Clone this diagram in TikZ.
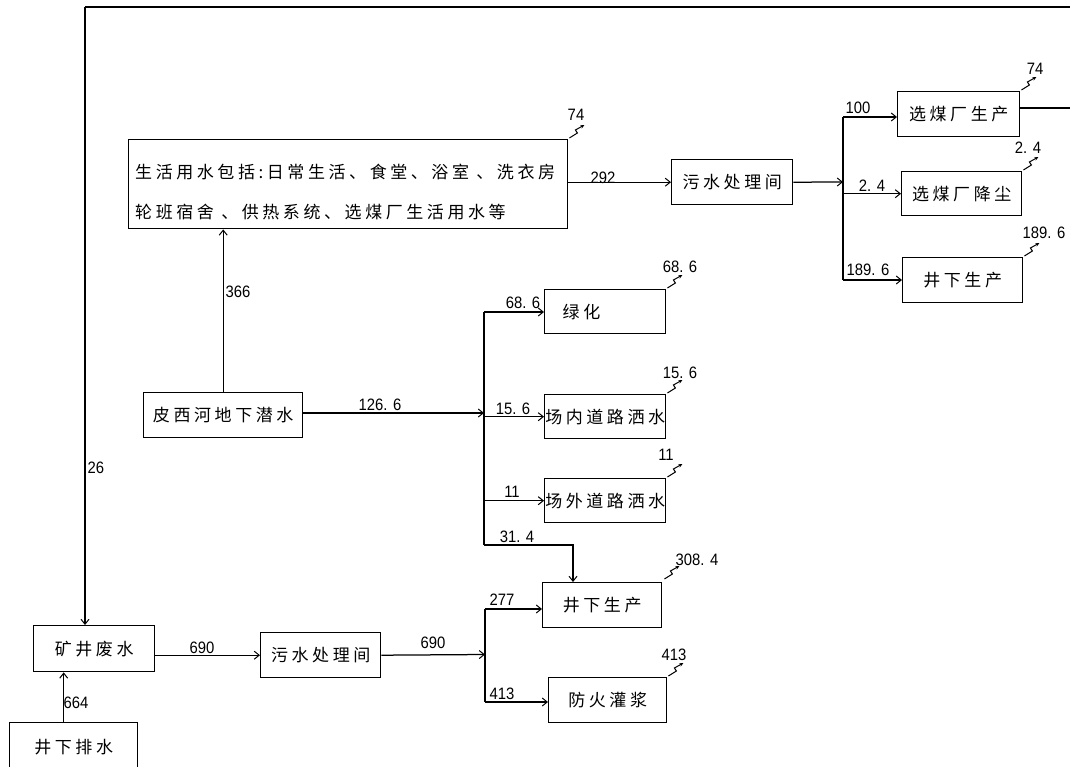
\documentclass[tikz,border=0pt]{standalone}
\usepackage{fontspec}
\setmainfont{Liberation Sans}
\newfontfamily\cjk[LetterSpace=21]{Noto Sans CJK SC}
\newfontfamily\numf[FakeStretch=0.9]{Liberation Sans}
\usetikzlibrary{arrows.meta}
\begin{document}
\begin{tikzpicture}[x=1pt,y=-1pt,
  box/.style={draw,line width=1.4pt,inner sep=0pt,anchor=north west,
    font=\cjk\fontsize{17}{20}\selectfont},
  cjktext/.style={inner sep=0pt,font=\cjk\fontsize{17}{40}\selectfont},
  lbl/.style={inner sep=0pt,font=\numf\fontsize{16.5}{18}\selectfont},
  conn/.style={line width=1.25pt},
  arr/.style={conn,-{Straight Barb[length=5pt,width=8pt,line width=1pt]}},
  zz/.pic={\draw[line width=1pt,-{Stealth[length=4pt,width=3.5pt]}]
     (0,0) -- (8,-5) -- (6,-8) -- (15,-13);}
]
\useasboundingbox (0,0) rectangle (1070,767);
\fill[white] (0,0) rectangle (1070,767);

% boxes
\node[box,minimum width=439pt,minimum height=89pt] (sh) at (128,139) {};
\node[cjktext,anchor=west,align=left] (sht) at (135,192)
  {生活用水包括:日常生活、食堂、浴室 、洗衣房\\轮班宿舍 、供热系统、选煤厂生活用水等};
\node[box,minimum width=121pt,minimum height=45pt] (ws1) at (671,159) {污水处理间};
\node[box,minimum width=122pt,minimum height=45pt] (xm1) at (897,91) {选煤厂生产};
\node[box,minimum width=120pt,minimum height=44pt] (xm2) at (901,171) {选煤厂降尘};
\node[box,minimum width=120pt,minimum height=45pt] (jx1) at (902,257) {井下生产};
\node[box,minimum width=159pt,minimum height=45pt] (px) at (143,392) {皮西河地下潜水};
\node[box,minimum width=121pt,minimum height=44pt,text width=121pt,align=left] (lh) at (544,289) {\hspace*{18pt}绿化};
\node[box,minimum width=121pt,minimum height=44pt] (cn) at (544,394) {场内道路洒水};
\node[box,minimum width=121pt,minimum height=44pt] (cw) at (544,478) {场外道路洒水};
\node[box,minimum width=119pt,minimum height=45pt] (jx2) at (542,582) {井下生产};
\node[box,minimum width=118pt,minimum height=45pt] (fh) at (548,677) {防火灌浆};
\node[box,minimum width=121pt,minimum height=46pt] (kj) at (33,625) {矿井废水};
\node[box,minimum width=120pt,minimum height=45pt] (ws2) at (260,632) {污水处理间};
\node[box,minimum width=128pt,minimum height=48pt] (jp) at (9,722) {井下排水};

% junction coordinates
\coordinate (tl) at (85,7);
\coordinate (tr) at (1080,7);
\coordinate (re) at (1080,108);
\coordinate (j1) at (843,182);
\coordinate (j1t) at (843,117);
\coordinate (j1b) at (843,280);
\coordinate (j2) at (484,413);
\coordinate (j2t) at (484,312);
\coordinate (j2b) at (484,545);
\coordinate (c314) at (573,545);
\coordinate (j3) at (485,654.5);
\coordinate (j3t) at (485,609);
\coordinate (j3b) at (485,702);

% connectors
\draw[conn] (tr) -- (tl);
\draw[arr] (tl) -- (tl |- kj.north);
\draw[arr] (px.north) -- (px.north |- sh.south);
\draw[arr] (ws1.west -| sh.east) -- (ws1.west);
\draw[arr] (ws1.east) -- (j1);
\draw[conn] (j1t) -- (j1b);
\draw[arr] (j1t) -- (j1t -| xm1.west);
\draw[arr] (j1 |- xm2.west) -- (xm2.west);
\draw[arr] (j1b) -- (j1b -| jx1.west);
\draw[conn] (xm1.east |- re) -- (re);
\draw[arr] (px.east |- j2) -- (j2);
\draw[conn] (j2t) -- (j2b);
\draw[arr] (j2t) -- (j2t -| lh.west);
\draw[arr] (j2 |- cn.west) -- (cn.west);
\draw[arr] (j2 |- cw.west) -- (cw.west);
\draw[arr] (j2b) -- (c314) -- (c314 |- jx2.north);
\draw[arr] ([xshift=-10pt]jp.north) -- ([xshift=-10pt]jp.north |- kj.south);
\draw[arr] (ws2.west -| kj.east) -- (ws2.west);
\draw[arr] (ws2.east) -- (j3);
\draw[conn] (j3t) -- (j3b);
\draw[arr] (j3t) -- (j3t -| jx2.west);
\draw[arr] (j3b) -- (j3b -| fh.west);

% flow labels
\node[lbl] (l366) at (238,292) {366};
\node[lbl] (l292) at (603,178) {292};
\node[lbl] (l100) at (858,108) {100};
\node[lbl] (l24) at (872,186) {2. 4};
\node[lbl] (l1896) at (868,270) {189. 6};
\node[lbl] (l1266) at (380,405) {126. 6};
\node[lbl] (l686) at (523,303) {68. 6};
\node[lbl] (l156) at (513,409) {15. 6};
\node[lbl] (l11) at (512,492) {11};
\node[lbl] (l314) at (517,537) {31. 4};
\node[lbl] (l277) at (502,600) {277};
\node[lbl] (l413) at (502,694) {413};
\node[lbl] (l690a) at (202,648) {690};
\node[lbl] (l690b) at (433,643) {690};
\node[lbl] (l26) at (96,468) {26};
\node[lbl] (l664) at (76,703) {664};

% loss marks
\pic at ([shift={(1,-1)}]sh.north east) {zz};
\pic at ([shift={(1,-1)}]xm1.north east) {zz};
\pic at ([shift={(1,-1)}]xm2.north east) {zz};
\pic at ([shift={(1,-1)}]jx1.north east) {zz};
\pic at ([shift={(1,-1)}]lh.north east) {zz};
\pic at ([shift={(1,-1)}]cn.north east) {zz};
\pic at ([shift={(1,-1)}]cw.north east) {zz};
\pic at ([shift={(2,-3)}]jx2.north east) {zz};
\pic at ([shift={(1,-1)}]fh.north east) {zz};
\node[lbl] (o74a) at (576,115) {74};
\node[lbl] (o74b) at (1035,69) {74};
\node[lbl] (o24) at (1028,148) {2. 4};
\node[lbl] (o1896) at (1044,233) {189. 6};
\node[lbl] (o686) at (680,267) {68. 6};
\node[lbl] (o156) at (680,373) {15. 6};
\node[lbl] (o11) at (666,455) {11};
\node[lbl] (o3084) at (697,560) {308. 4};
\node[lbl] (o413) at (674,655) {413};
\end{tikzpicture}
\end{document}
